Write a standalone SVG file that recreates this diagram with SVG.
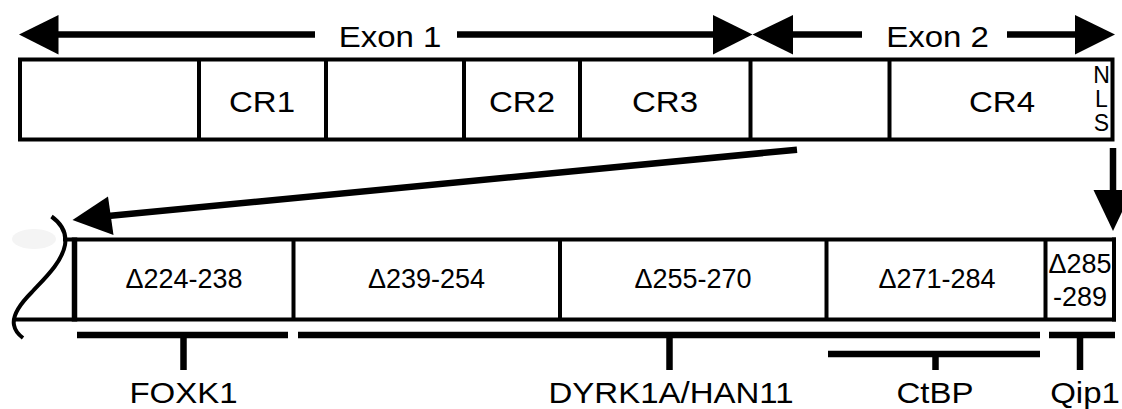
<svg xmlns="http://www.w3.org/2000/svg" width="1122" height="409" viewBox="0 0 1122 409">
<style>
.box{fill:none;stroke:#000;stroke-width:4}
.ln{stroke:#000;stroke-width:4;fill:none}
.shaft{stroke:#000;stroke-width:6.5;fill:none}
.head{fill:#000;stroke:none}
.big{font-family:"Liberation Sans",Arial,sans-serif;font-size:30px;fill:#000;text-anchor:middle}
.del{font-family:"Liberation Sans",Arial,sans-serif;font-size:27px;fill:#000;text-anchor:middle}
.nls{font-family:"Liberation Sans",Arial,sans-serif;font-size:23px;fill:#000;text-anchor:middle}
</style>
<rect width="1122" height="409" fill="#fff"/>

<g id="exon-arrows">
  <line class="shaft" x1="58" y1="34.5" x2="315" y2="34.5"/>
  <polygon class="head" points="19,34.5 58.5,15 58.5,54.5"/>
  <line class="shaft" x1="457" y1="34.5" x2="714" y2="34.5"/>
  <polygon class="head" points="752.5,34.5 713,15 713,54.5"/>
  <line class="shaft" x1="792" y1="34.5" x2="862" y2="34.5"/>
  <polygon class="head" points="752.5,34.5 793,15 793,54.5"/>
  <line class="shaft" x1="1007" y1="34.5" x2="1076" y2="34.5"/>
  <polygon class="head" points="1115,34.5 1075,15 1075,54.5"/>
  <text class="big" transform="translate(390,47) scale(1.1,1)">Exon 1</text>
  <text class="big" transform="translate(937.5,47) scale(1.1,1)">Exon 2</text>
</g>

<g id="protein">
  <rect class="box" x="20" y="59.5" width="1092.5" height="80"/>
  <line class="ln" x1="199" y1="59.5" x2="199" y2="139.5"/>
  <line class="ln" x1="326" y1="59.5" x2="326" y2="139.5"/>
  <line class="ln" x1="464" y1="59.5" x2="464" y2="139.5"/>
  <line class="ln" x1="580" y1="59.5" x2="580" y2="139.5"/>
  <line class="ln" x1="750.5" y1="59.5" x2="750.5" y2="139.5"/>
  <line class="ln" x1="889.5" y1="59.5" x2="889.5" y2="139.5"/>
  <text class="big" transform="translate(262,112) scale(1.1,1)">CR1</text>
  <text class="big" transform="translate(522,112) scale(1.1,1)">CR2</text>
  <text class="big" transform="translate(665,112) scale(1.1,1)">CR3</text>
  <text class="big" transform="translate(1002,112) scale(1.1,1)">CR4</text>
  <text class="nls" x="1101.5" y="83">N</text>
  <text class="nls" x="1101.5" y="107">L</text>
  <text class="nls" x="1101.5" y="131">S</text>
</g>

<g id="connectors">
  <line class="shaft" x1="797" y1="149.7" x2="108" y2="216"/>
  <polygon class="head" points="72.5,220 108,196.5 113.5,235"/>
  <line class="shaft" x1="1113" y1="148" x2="1113" y2="192"/>
  <polygon class="head" points="1113,231 1093.5,190 1132.5,190"/>
</g>

<g id="deletions">
  <ellipse cx="34" cy="239" rx="22" ry="10" fill="#f4f4f4"/>
  <path class="ln" d="M51.5,216.5 C62,224 67,233 65,245 C62,262 45,278 32,292 C20,304 12,315 14,325 C15,331 19,335 23,338"/>
  <line class="ln" x1="63" y1="239.5" x2="1116" y2="239.5"/>
  <line class="ln" x1="14" y1="319.5" x2="1116" y2="319.5"/>
  <line class="ln" x1="74.5" y1="237.5" x2="74.5" y2="321.5" style="stroke-width:5.5"/>
  <line class="ln" x1="293.5" y1="239.5" x2="293.5" y2="319.5"/>
  <line class="ln" x1="560" y1="239.5" x2="560" y2="319.5"/>
  <line class="ln" x1="826.5" y1="239.5" x2="826.5" y2="319.5"/>
  <line class="ln" x1="1045.5" y1="239.5" x2="1045.5" y2="319.5"/>
  <line class="ln" x1="1114" y1="237.5" x2="1114" y2="321.5"/>
  <text class="del" x="184" y="288">Δ224-238</text>
  <text class="del" x="426.5" y="288">Δ239-254</text>
  <text class="del" x="693" y="288">Δ255-270</text>
  <text class="del" x="937" y="288">Δ271-284</text>
  <text class="del" x="1080" y="273">Δ285</text>
  <text class="del" x="1080" y="306">-289</text>
</g>

<g id="binding">
  <line class="shaft" x1="77" y1="335" x2="288" y2="335"/>
  <line class="shaft" x1="183.5" y1="335" x2="183.5" y2="370"/>
  <line class="shaft" x1="298" y1="335" x2="1040" y2="335"/>
  <line class="shaft" x1="669.5" y1="335" x2="669.5" y2="370"/>
  <line class="shaft" x1="828" y1="354" x2="1040" y2="354"/>
  <line class="shaft" x1="935.5" y1="354" x2="935.5" y2="370"/>
  <line class="shaft" x1="1049" y1="335" x2="1115" y2="335"/>
  <line class="shaft" x1="1080" y1="335" x2="1080" y2="370"/>
  <text class="big" transform="translate(183.5,403) scale(1.1,1)">FOXK1</text>
  <text class="big" transform="translate(671,403) scale(1.1,1)">DYRK1A/HAN11</text>
  <text class="big" transform="translate(935,403) scale(1.1,1)">CtBP</text>
  <text class="big" transform="translate(1085,403) scale(1.1,1)">Qip1</text>
</g>
</svg>
